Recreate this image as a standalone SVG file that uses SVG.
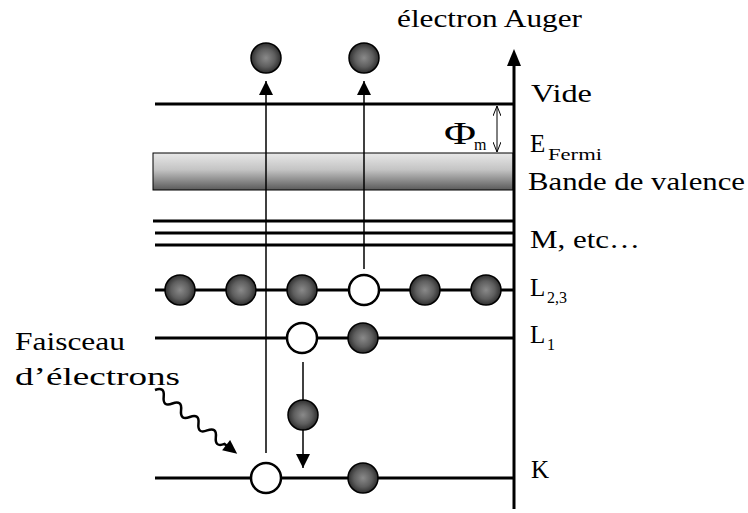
<svg xmlns="http://www.w3.org/2000/svg" width="748" height="513" viewBox="0 0 748 513">
<defs>
<radialGradient id="ball" cx="50%" cy="50%" r="50%">
<stop offset="0" stop-color="#8a8a8a"/>
<stop offset="0.6" stop-color="#5e5e5e"/>
<stop offset="1" stop-color="#2e2e2e"/>
</radialGradient>
<linearGradient id="band" x1="0" y1="0" x2="0" y2="1">
<stop offset="0" stop-color="#e8e8e8"/>
<stop offset="0.45" stop-color="#c4c4c4"/>
<stop offset="1" stop-color="#5a5a5a"/>
</linearGradient>
<marker id="ah" markerUnits="userSpaceOnUse" markerWidth="14" markerHeight="14" viewBox="0 0 12 12" refX="12" refY="6" orient="auto">
<path d="M0,0 L12,6 L0,12 z" fill="#000"/>
</marker>
<marker id="ahs" markerUnits="userSpaceOnUse" markerWidth="10" markerHeight="8" viewBox="0 0 10 8" refX="10" refY="4" orient="auto-start-reverse">
<path d="M0,0 L10,4 L0,8" fill="none" stroke="#000" stroke-width="1"/>
</marker>
</defs>
<style>
.lvl{stroke:#000;stroke-width:3;fill:none}
.thin{stroke:#000;stroke-width:1.5;fill:none}
.full{fill:url(#ball);stroke:#000;stroke-width:1.5}
.empty{fill:#fff;stroke:#000;stroke-width:2.5}
.t{font-family:"Liberation Serif","Times New Roman",serif;font-size:25px;fill:#000}
.s{font-family:"Liberation Serif","Times New Roman",serif;font-size:16px;fill:#000}
.phi{font-family:"Liberation Serif","Times New Roman",serif;font-size:32px;fill:#000}
</style>
<g id="band-valence">
<rect x="153" y="153" width="360" height="37" fill="url(#band)" stroke="#000" stroke-width="1"/>
</g>
<g id="levels">
<line id="vide" class="lvl" x1="155" y1="104" x2="513" y2="104"/>
<line class="lvl" x1="153" y1="221" x2="513" y2="221"/>
<line class="lvl" x1="155" y1="233" x2="513" y2="233"/>
<line class="lvl" x1="155" y1="245" x2="513" y2="245"/>
<line id="l23" class="lvl" x1="155" y1="290" x2="513" y2="290"/>
<line id="l1" class="lvl" x1="155" y1="338" x2="513" y2="338"/>
<line id="k" class="lvl" x1="155" y1="478" x2="513" y2="478"/>
</g>
<g id="connectors">
<line class="thin" x1="266" y1="453" x2="266" y2="81" marker-end="url(#ah)"/>
<line class="thin" x1="364" y1="269" x2="364" y2="81" marker-end="url(#ah)"/>
<line class="thin" x1="303" y1="362" x2="303" y2="468" marker-end="url(#ah)"/>
<line stroke="#000" stroke-width="1" x1="497" y1="106" x2="497" y2="152" marker-start="url(#ahs)" marker-end="url(#ahs)"/>
<g transform="translate(155,390) rotate(37.8)">
<path d="M0,0 q5.5,-9 11,0 t11,0 t11,0 t11,0 t11,0 t11,0 t11,0 t11,0 l4,0" fill="none" stroke="#000" stroke-width="2.5"/>
<path d="M90,-6.5 L104,0 L90,6.5 z" fill="#000"/>
</g>
</g>
<g id="axis">
<line stroke="#000" stroke-width="3" x1="514" y1="509" x2="514" y2="62"/>
<path d="M507,66 L514,49 L521,66 z" fill="#000"/>
</g>
<g id="electrons">
<circle class="full" cx="266" cy="58" r="15"/>
<circle class="full" cx="364" cy="58" r="15"/>
<circle class="full" cx="180" cy="290" r="15"/>
<circle class="full" cx="241" cy="290" r="15"/>
<circle class="full" cx="302" cy="290" r="15"/>
<circle class="empty" cx="364" cy="290" r="15"/>
<circle class="full" cx="425" cy="290" r="15"/>
<circle class="full" cx="486" cy="290" r="15"/>
<circle class="empty" cx="302" cy="338" r="15"/>
<circle class="full" cx="363" cy="338" r="15"/>
<circle class="full" cx="303" cy="415" r="15"/>
<circle class="empty" cx="266" cy="478" r="15"/>
<circle class="full" cx="363" cy="478" r="15"/>
</g>
<g id="labels">
<text class="t" x="397" y="27" textLength="185" lengthAdjust="spacingAndGlyphs">électron Auger</text>
<text class="t" x="531" y="102" textLength="61" lengthAdjust="spacingAndGlyphs">Vide</text>
<text class="phi" x="444" y="144" textLength="32" lengthAdjust="spacingAndGlyphs">Φ</text>
<text class="s" x="474" y="150">m</text>
<text class="t" x="530" y="152">E</text>
<text class="s" x="548" y="160" textLength="54" lengthAdjust="spacingAndGlyphs">Fermi</text>
<text class="t" x="528" y="190" textLength="217" lengthAdjust="spacingAndGlyphs">Bande de valence</text>
<text class="t" x="530" y="248" textLength="110" lengthAdjust="spacingAndGlyphs">M, etc…</text>
<text class="t" x="530" y="296">L</text>
<text class="s" x="547" y="303">2,3</text>
<text class="t" x="530" y="343">L</text>
<text class="s" x="547" y="350">1</text>
<text class="t" x="531" y="478">K</text>
<text class="t" x="15" y="350" textLength="110" lengthAdjust="spacingAndGlyphs">Faisceau</text>
<text class="t" x="15" y="385" textLength="165" lengthAdjust="spacingAndGlyphs">d’électrons</text>
</g>
</svg>
